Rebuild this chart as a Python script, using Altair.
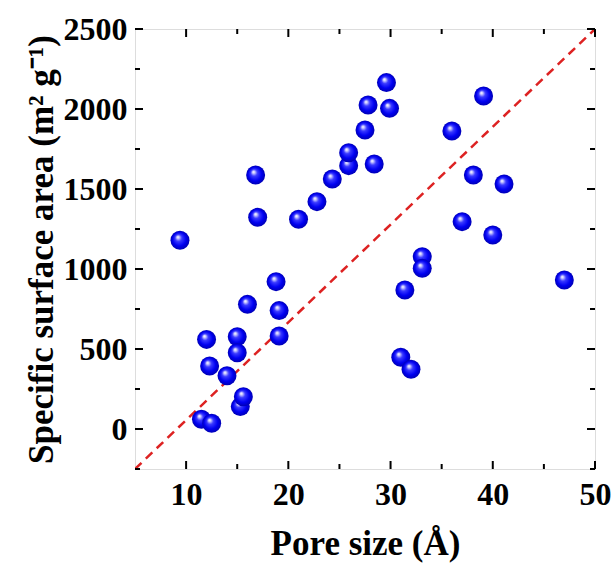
import altair as alt
import pandas as pd

pore_size = [9.4, 11.5, 12.5, 12.0, 12.3, 14.0, 15.0, 15.0, 15.3, 15.6,
             16.0, 16.8, 17.0, 18.8, 19.1, 19.1, 21.0, 22.8, 24.3, 25.9,
             25.9, 27.5, 27.8, 28.4, 29.6, 29.9, 31.0, 32.0, 31.4, 33.1,
             33.1, 36.0, 37.0, 38.1, 39.1, 40.0, 41.1, 47.0]
surface_area = [1180, 61, 36, 560, 394, 333, 577, 477, 140, 202,
                779, 1587, 1323, 921, 740, 581, 1311, 1421, 1562, 1646,
                1727, 1869, 2025, 1656, 2165, 2004, 448, 373, 869, 1077,
                1004, 1862, 1296, 1587, 2081, 1212, 1531, 931]

diag_x = [5, 50]
diag_y = [-250, 2500]

x_major = [10, 20, 30, 40, 50]
x_minor = [15, 25, 35, 45]
y_major = [0, 500, 1000, 1500, 2000, 2500]
y_minor = [-250, 250, 750, 1250, 1750, 2250]

FONT = "Liberation Serif"
W, H = 460, 440
X0, X1 = 5, 50
Y0, Y1 = -250, 2500
XPX = (X1 - X0) / W   # data units per pixel
YPX = (Y1 - Y0) / H

pts = pd.DataFrame({"x": pore_size, "y": surface_area})
diag = pd.DataFrame({"x": diag_x, "y": diag_y})

# inward tick marks along the frame (thin rectangles), built from tick value lists
rows = []
for vals, size in ((x_major, 8), (x_minor, 5)):
    for v in vals:
        for edge, sign in ((Y0, 1), (Y1, -1)):
            rows.append({"x": v - XPX, "x2": v + XPX,
                         "y": edge, "y2": edge + sign * size * YPX})
for vals, size in ((y_major, 8), (y_minor, 5)):
    for v in vals:
        for edge, sign in ((X0, 1), (X1, -1)):
            rows.append({"x": edge, "x2": edge + sign * size * XPX,
                         "y": v - YPX, "y2": v + YPX})
ticks_df = pd.DataFrame(rows)

xscale = alt.Scale(domain=[X0, X1], nice=False, zero=False)
yscale = alt.Scale(domain=[Y0, Y1], nice=False, zero=False)

xaxis = alt.Axis(
    orient="bottom", values=x_major, format="d", ticks=False, domain=False,
    grid=False, labelFlush=False, labelFont=FONT, labelFontSize=32,
    labelFontWeight="bold", labelColor="black", labelPadding=10,
    title="Pore size (Å)", titleFont=FONT, titleFontSize=35,
    titleFontWeight="bold", titleColor="black", titlePadding=16)
yaxis = alt.Axis(
    orient="left", values=y_major, format="d", ticks=False, domain=False,
    grid=False, labelFlush=False, labelFont=FONT, labelFontSize=32,
    labelFontWeight="bold", labelColor="black", labelPadding=8,
    title="Specific surface area (m² g⁻¹)", titleFont=FONT, titleFontSize=35,
    titleFontWeight="bold", titleColor="black", titlePadding=4)

line = alt.Chart(diag).mark_line(
    color="#dd2222", strokeWidth=2.5, strokeDash=[9, 6], clip=True
).encode(
    x=alt.X("x:Q", scale=xscale, axis=xaxis),
    y=alt.Y("y:Q", scale=yscale, axis=yaxis),
)

sphere = alt.RadialGradient(
    gradient="radial", x1=0.38, y1=0.32, r1=0, x2=0.5, y2=0.5, r2=0.5,
    stops=[
        alt.GradientStop(offset=0, color="#ffffff"),
        alt.GradientStop(offset=0.12, color="#d4d4ff"),
        alt.GradientStop(offset=0.35, color="#3a3aff"),
        alt.GradientStop(offset=0.7, color="#0000f2"),
        alt.GradientStop(offset=1, color="#0000b4"),
    ],
)

points = alt.Chart(pts).mark_circle(size=360, opacity=1, fill=sphere, stroke=None).encode(
    x=alt.X("x:Q", scale=xscale, axis=xaxis),
    y=alt.Y("y:Q", scale=yscale, axis=yaxis),
)

tick_marks = alt.Chart(ticks_df).mark_rect(color="black", opacity=1).encode(
    x=alt.X("x:Q", scale=xscale, axis=xaxis),
    x2="x2:Q",
    y=alt.Y("y:Q", scale=yscale, axis=yaxis),
    y2="y2:Q",
)

chart = alt.layer(line, points, tick_marks).properties(
    width=W, height=H,
    autosize=alt.AutoSizeParams(type="none"),
    padding={"left": 135, "top": 29, "right": 20, "bottom": 98},
).configure_view(stroke="black", strokeWidth=2).configure(background="white")

chart.save("out.html", embed_options={"renderer": "svg", "actions": False})
